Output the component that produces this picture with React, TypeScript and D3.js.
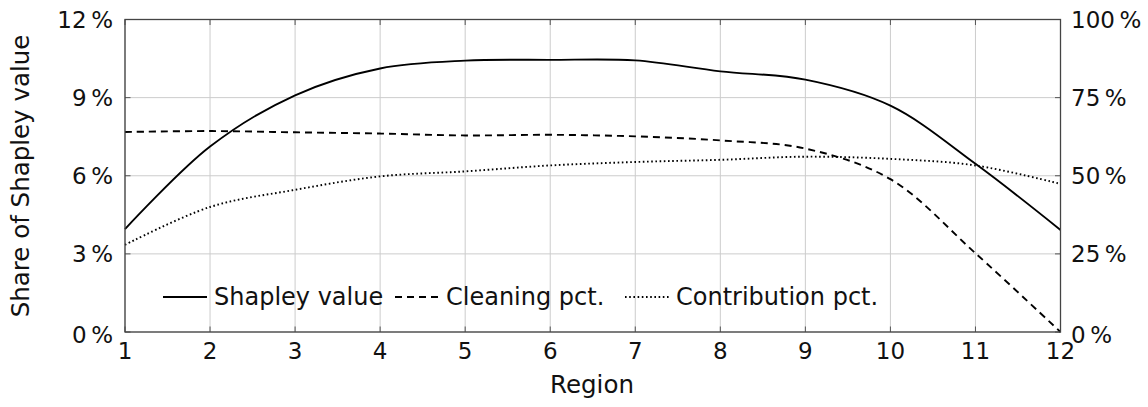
import React from 'react';
import * as d3 from 'd3';

// values
const regions = [1, 2, 3, 4, 5, 6, 7, 8, 9, 10, 11, 12];
const shapleyShare = [3.95, 7.12, 9.09, 10.12, 10.42, 10.45, 10.43, 10.01, 9.69, 8.69, 6.46, 3.92];
const cleaningPct = [64.0, 64.3, 63.9, 63.5, 62.9, 63.1, 62.6, 61.3, 58.7, 48.9, 25.2, 0.0];
const contributionPct = [27.9, 40.0, 45.5, 49.8, 51.4, 53.3, 54.4, 55.1, 56.1, 55.4, 53.3, 47.4];
const leftTicks = [0, 3, 6, 9, 12];
const rightTicks = [0, 25, 50, 75, 100];

const W = 1148;
const H = 407;
const plot = { left: 125, right: 1060.5, top: 19.5, bottom: 332 };
const FONT = "'DejaVu Sans', sans-serif";

const legendItems = [
  { label: 'Shapley value', dash: null, x: 163 },
  { label: 'Cleaning pct.', dash: '7,5', x: 395 },
  { label: 'Contribution pct.', dash: '1.6,2.6', x: 625 },
];

const App = () => {
  const x = d3.scaleLinear().domain([1, 12]).range([plot.left, plot.right]);
  const yL = d3.scaleLinear().domain([0, 12]).range([plot.bottom, plot.top]);
  const yR = d3.scaleLinear().domain([0, 100]).range([plot.bottom, plot.top]);

  const lineL = d3.line<number>().x((_, i) => x(regions[i])).y((d) => yL(d)).curve(d3.curveCatmullRom.alpha(0.5));
  const lineR = d3.line<number>().x((_, i) => x(regions[i])).y((d) => yR(d)).curve(d3.curveCatmullRom.alpha(0.5));

  const tick = 5.5;
  return (
    <svg width={W} height={H} style={{ position: 'absolute', left: 0, top: 0, background: '#fff', fontFamily: FONT }}>
      {/* grid */}
      <g stroke="#cccccc" strokeWidth={1}>
        {regions.map((r) => (
          <line key={'gx' + r} x1={x(r)} x2={x(r)} y1={plot.top} y2={plot.bottom} />
        ))}
        {leftTicks.map((t) => (
          <line key={'gy' + t} x1={plot.left} x2={plot.right} y1={yL(t)} y2={yL(t)} />
        ))}
      </g>

      {/* ticks */}
      <g stroke="#555" strokeWidth={1}>
        {regions.map((r) => (
          <g key={'tx' + r}>
            <line x1={x(r)} x2={x(r)} y1={plot.bottom} y2={plot.bottom - tick} />
            <line x1={x(r)} x2={x(r)} y1={plot.top} y2={plot.top + tick} />
          </g>
        ))}
        {leftTicks.map((t) => (
          <line key={'tl' + t} x1={plot.left} x2={plot.left + tick} y1={yL(t)} y2={yL(t)} />
        ))}
        {rightTicks.map((t) => (
          <line key={'tr' + t} x1={plot.right} x2={plot.right - tick} y1={yR(t)} y2={yR(t)} />
        ))}
      </g>

      {/* series */}
      <g fill="none" stroke="#000" strokeWidth={1.9}>
        <path d={lineL(shapleyShare) || ''} />
        <path d={lineR(cleaningPct) || ''} strokeDasharray="7,5" />
        <path d={lineR(contributionPct) || ''} strokeDasharray="1.6,2.6" />
      </g>

      {/* frame */}
      <rect x={plot.left} y={plot.top} width={plot.right - plot.left} height={plot.bottom - plot.top}
        fill="none" stroke="#444" strokeWidth={1.3} />

      {/* tick labels */}
      <g fontSize={23} fill="#111">
        {regions.map((r) => (
          <text key={'lx' + r} x={x(r)} y={359} textAnchor="middle">{r}</text>
        ))}
        {leftTicks.map((t) => (
          <text key={'ll' + t} x={113} y={yL(t) + 8 + (t === 0 ? 3 : 0)} textAnchor="end">{t + '\u2009%'}</text>
        ))}
        {rightTicks.map((t) => (
          <text key={'lr' + t} x={1071} y={yR(t) + 8 + (t === 0 ? 3 : 0)} textAnchor="start">{t + '\u2009%'}</text>
        ))}
      </g>

      {/* axis titles */}
      <text x={592} y={393} fontSize={24.5} textAnchor="middle" fill="#111">Region</text>
      <text transform="translate(29,176) rotate(-90)" fontSize={24.5} textAnchor="middle" fill="#111">Share of Shapley value</text>

      {/* legend */}
      <g fontSize={24} fill="#111">
        {legendItems.map((it) => (
          <g key={it.label}>
            <line x1={it.x} x2={it.x + 44} y1={297} y2={297} stroke="#000" strokeWidth={1.9}
              strokeDasharray={it.dash || undefined} />
            <text x={it.x + 51} y={305}>{it.label}</text>
          </g>
        ))}
      </g>
    </svg>
  );
};

export default App;
